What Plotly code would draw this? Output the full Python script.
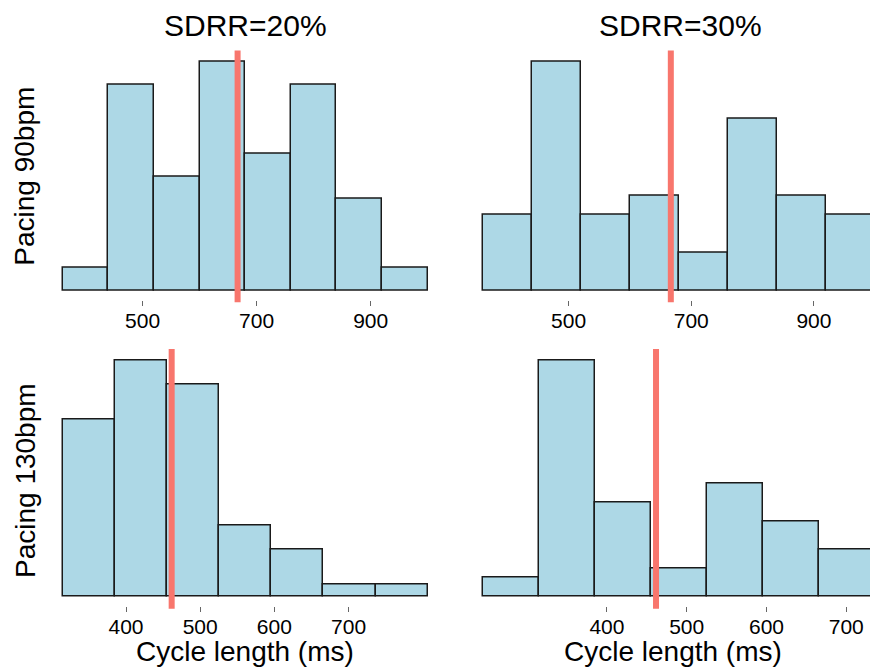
import plotly.graph_objects as go

# ---- data ----
breaks_90 = [360, 440, 520, 600, 680, 760, 840, 920, 1000]
counts_90_sd20 = [1, 9, 5, 10, 6, 9, 4, 1]
counts_90_sd30 = [4, 12, 4, 5, 2, 9, 5, 4]

breaks_130_sd20 = [314.6, 384.9, 455.2, 525.5, 595.8, 666.1, 736.4, 806.7]
counts_130_sd20 = [15, 20, 18, 6, 4, 1, 1]
breaks_130_sd30 = [244.3, 314.6, 384.9, 455.2, 525.5, 595.8, 666.1, 736.4]
counts_130_sd30 = [2, 25, 10, 3, 12, 8, 5]

mean_90 = 60000 / 90
mean_130 = 60000 / 130

col_titles = ["SDRR=20%", "SDRR=30%"]
row_titles = ["Pacing 90bpm", "Pacing 130bpm"]
x_title = "Cycle length (ms)"
ticks_90 = [500, 700, 900]
ticks_130 = [400, 500, 600, 700]

# page has an 8px body margin; layout positions below are in window pixels
OFF = 8
W, H = 878, 669 - OFF
FONT = "Liberation Sans, Arial, Helvetica, sans-serif"


def px_x(p):
    return (p - OFF) / W


def px_y(p):
    return 1 - (p - OFF) / H


panels = [
    # breaks, counts, mean, ticks, xdomain px, ydomain px, xrange
    (breaks_90, counts_90_sd20, mean_90, ticks_90, (48, 442), (52.85, 299.85), (334.2, 1025.1)),
    (breaks_90, counts_90_sd30, mean_90, ticks_90, (467, 878), (52.85, 299.85), (334.4, 1004.4)),
    (breaks_130_sd20, counts_130_sd20, mean_130, ticks_130, (48, 442), (351.6, 606.1), (294.8, 826.0)),
    (breaks_130_sd30, counts_130_sd30, mean_130, ticks_130, (467, 878), (351.6, 606.1), (224.6, 739.8)),
]

fig = go.Figure()
layout = {}
shapes = []
for i, (br, cnt, mu, tv, xd, yd, xr) in enumerate(panels, start=1):
    xs = "x" if i == 1 else f"x{i}"
    ys = "y" if i == 1 else f"y{i}"
    centers = [(br[k] + br[k + 1]) / 2 for k in range(len(cnt))]
    widths = [br[k + 1] - br[k] for k in range(len(cnt))]
    fig.add_trace(go.Bar(
        x=centers, y=cnt, width=widths, xaxis=xs, yaxis=ys,
        marker=dict(color="#ADD8E6", line=dict(color="#1a1a1a", width=1.5)),
        showlegend=False, hoverinfo="skip",
    ))
    ymax = max(cnt)
    layout["xaxis" if i == 1 else f"xaxis{i}"] = dict(
        domain=[max(0, px_x(xd[0])), min(1, px_x(xd[1]))], range=list(xr), anchor=ys,
        tickvals=tv, ticks="outside", ticklen=5, tickwidth=1, tickcolor="#666",
        ticklabelstandoff=-3,
        tickfont=dict(size=21, color="black", family=FONT),
        showgrid=False, zeroline=False, showline=False,
    )
    layout["yaxis" if i == 1 else f"yaxis{i}"] = dict(
        domain=[px_y(yd[1]), px_y(yd[0])], range=[-0.04 * ymax, 1.04 * ymax],
        anchor=xs, visible=False, showgrid=False, zeroline=False,
    )
    shapes.append(dict(
        type="line", xref=xs, yref=f"{ys} domain", x0=mu, x1=mu, y0=-0.01, y1=1.01,
        line=dict(color="#F8766D", width=6), layer="above",
    ))

annotations = []
for j, t in enumerate(col_titles):
    cx = [245, 680][j]
    annotations.append(dict(text=t, x=px_x(cx), y=px_y(25), xref="paper", yref="paper",
                            showarrow=False, font=dict(size=30, color="black", family=FONT),
                            xanchor="center", yanchor="middle"))
for j, t in enumerate(row_titles):
    cy = [176.7, 481][j]
    annotations.append(dict(text=t, x=px_x(25), y=px_y(cy), xref="paper", yref="paper",
                            showarrow=False, textangle=-90,
                            font=dict(size=28, color="black", family=FONT),
                            xanchor="center", yanchor="middle"))
for cx in [245, 672.5]:
    annotations.append(dict(text=x_title, x=px_x(cx), y=px_y(651), xref="paper", yref="paper",
                            showarrow=False, font=dict(size=28, color="black", family=FONT),
                            xanchor="center", yanchor="middle"))

fig.update_layout(
    width=W, height=H, margin=dict(l=0, r=0, t=0, b=0),
    paper_bgcolor="white", plot_bgcolor="white",
    bargap=0, shapes=shapes, annotations=annotations,
    font=dict(family=FONT),
    **layout,
)
fig.write_html("out.html")
